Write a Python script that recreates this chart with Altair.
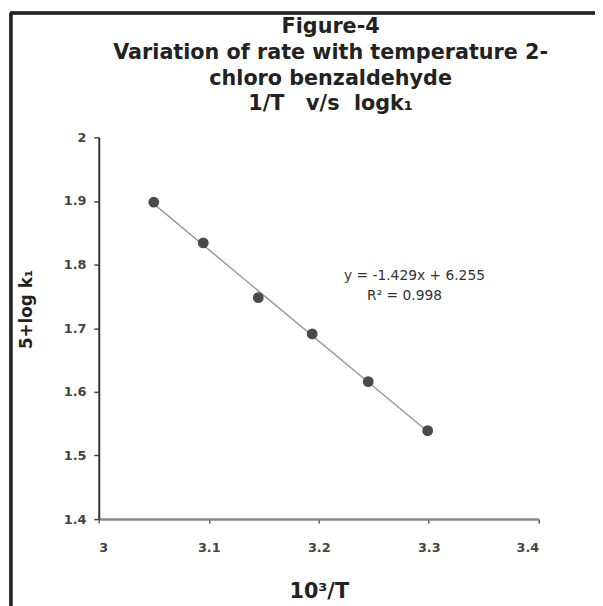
import altair as alt
import pandas as pd

# data
x_vals = [3.05, 3.095, 3.145, 3.194, 3.245, 3.299]
y_vals = [1.898, 1.834, 1.748, 1.691, 1.616, 1.539]

x_ticks = [3.0, 3.1, 3.2, 3.3, 3.4]
y_ticks = [1.4, 1.5, 1.6, 1.7, 1.8, 1.9, 2.0]

eq_text = ["y = -1.429x + 6.255", "R\u00b2 = 0.998"]
eq_x = [3.287, 3.278]
eq_y = [1.782, 1.750]

title_lines = ["Figure-4", "Variation of rate with temperature 2-",
               "chloro benzaldehyde", "1/T\u00a0\u00a0\u00a0v/s\u00a0\u00a0logk\u2081"]

df = pd.DataFrame({"x": x_vals, "y": y_vals})
eq_df = pd.DataFrame({"x": eq_x, "y": eq_y, "t": eq_text})

FONT = "DejaVu Sans"

xs = alt.Scale(domain=[3.0, 3.4], nice=False, zero=False)
ys = alt.Scale(domain=[1.4, 2.0], nice=False, zero=False)

x_axis = alt.Axis(values=x_ticks, format=".1~f", title="10\u00b3/T", grid=False,
                  domainColor="#8a8a8a", domainWidth=2.5, tickColor="#555",
                  tickSize=4, tickWidth=1.5, labelPadding=19, labelFontSize=13,
                  labelColor="#444", labelFont=FONT, labelFontWeight="bold",
                  titleFont=FONT, titleFontSize=21, titleFontWeight="bold",
                  titleColor="#222", titlePadding=26)
y_axis = alt.Axis(values=y_ticks, format=".1~f", title="5+log k\u2081", grid=False,
                  domainColor="#333", domainWidth=2, tickColor="#444",
                  tickSize=5, tickWidth=1.5, labelPadding=8, labelFontSize=13,
                  labelColor="#444", labelFont=FONT, labelFontWeight="bold",
                  titleFont=FONT, titleFontSize=17, titleFontWeight="bold",
                  titleColor="#222", titlePadding=28, titleY=174)

base = alt.Chart(df)

trend = base.transform_regression("x", "y", method="linear").mark_line(
    color="#9a9a9a", strokeWidth=1.5
).encode(x=alt.X("x:Q", scale=xs, axis=x_axis), y=alt.Y("y:Q", scale=ys, axis=y_axis))

points = base.mark_circle(size=120, color="#4a4a4a", opacity=1).encode(
    x=alt.X("x:Q", scale=xs), y=alt.Y("y:Q", scale=ys)
)

eq = alt.Chart(eq_df).mark_text(font=FONT, fontSize=14, color="#333").encode(
    x=alt.X("x:Q", scale=xs), y=alt.Y("y:Q", scale=ys), text="t:N"
)

frame_v = alt.Chart(df).mark_rule(color="#222", strokeWidth=2.5).encode(
    x=alt.value(-89), y=alt.value(-126), y2=alt.value(500)
)
frame_h = alt.Chart(df).mark_rule(color="#222", strokeWidth=2.5).encode(
    y=alt.value(-126), x=alt.value(-90), x2=alt.value(520)
)

chart = alt.layer(trend, points, eq, frame_v, frame_h).properties(
    width=446, height=387,
    title=alt.TitleParams(text=title_lines, font=FONT, fontSize=21,
                          fontWeight="bold", color="#222", lineHeight=26,
                          anchor="middle", dx=12, offset=20, dy=124),
    padding={"left": 92, "top": 127, "right": 57, "bottom": 84},
    autosize=alt.AutoSizeParams(type="none"),
).configure_view(stroke=None)

chart.save("out.html", embed_options={"renderer": "svg", "actions": False})
